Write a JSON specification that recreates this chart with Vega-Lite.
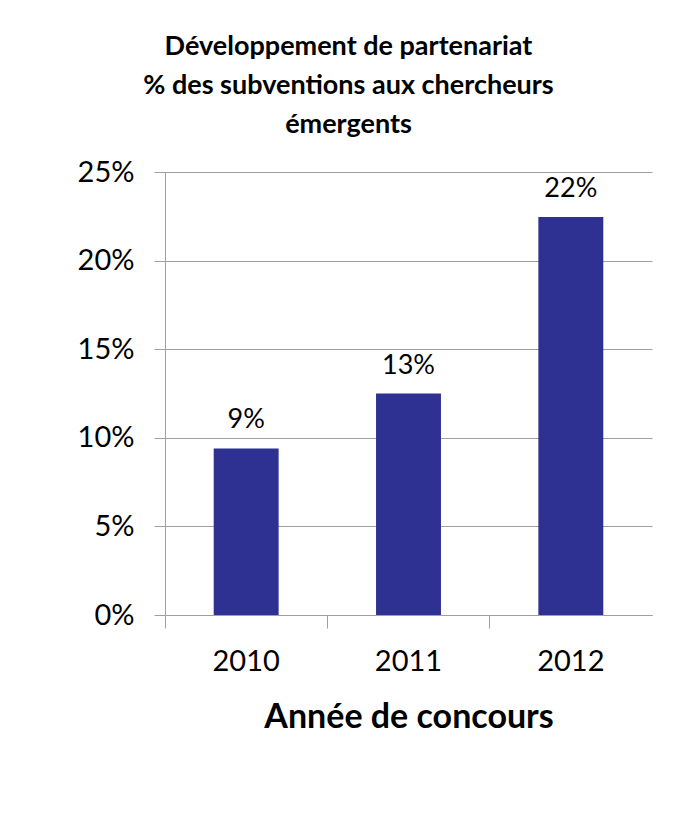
{
  "$schema": "https://vega.github.io/schema/vega-lite/v6.json",
  "autosize": {"type": "none"},
  "width": 487,
  "height": 443,
  "padding": {"left": 165, "top": 172, "right": 38, "bottom": 220},
  "background": "white",
  "title": {
    "text": ["Développement de partenariat", "% des subventions aux chercheurs", "émergents"],
    "font": "Lato",
    "fontSize": 27,
    "fontWeight": "bold",
    "lineHeight": 39,
    "color": "black",
    "anchor": "middle",
    "frame": "group",
    "dx": -60,
    "offset": 19
  },
  "data": {
    "values": [
      {"annee": "2010", "part": 0.094},
      {"annee": "2011", "part": 0.125},
      {"annee": "2012", "part": 0.2246}
    ]
  },
  "encoding": {
    "x": {
      "field": "annee",
      "type": "nominal",
      "scale": {"paddingInner": 0, "paddingOuter": 0},
      "axis": {
        "title": "Année de concours",
        "titleFont": "Lato",
        "titleFontSize": 34,
        "titleFontWeight": "bold",
        "titleColor": "black",
        "titlePadding": 24,
        "labelFont": "Lato",
        "labelFontSize": 29,
        "labelColor": "black",
        "labelAngle": 0,
        "labelPadding": 19,
        "bandPosition": 0,
        "tickSize": 13,
        "tickColor": "#A0A0A0",
        "domainColor": "#A0A0A0",
        "grid": false
      }
    },
    "y": {
      "field": "part",
      "type": "quantitative",
      "scale": {"domain": [0, 0.25]},
      "axis": {
        "title": null,
        "values": [0, 0.05, 0.1, 0.15, 0.2, 0.25],
        "format": ".0%",
        "labelFont": "Lato",
        "labelFontSize": 29,
        "labelColor": "black",
        "labelPadding": 20,
        "tickSize": 11,
        "tickColor": "#A0A0A0",
        "domainColor": "#A0A0A0",
        "gridColor": "#A0A0A0",
        "grid": true
      }
    }
  },
  "layer": [
    {
      "mark": {"type": "bar", "color": "#2E3192", "width": {"band": 0.4}}
    },
    {
      "mark": {"type": "text", "font": "Lato", "fontSize": 27, "color": "black", "baseline": "bottom", "dy": -14},
      "encoding": {
        "text": {"field": "part", "type": "quantitative", "format": ".0%"}
      }
    }
  ],
  "config": {"view": {"stroke": null}}
}
